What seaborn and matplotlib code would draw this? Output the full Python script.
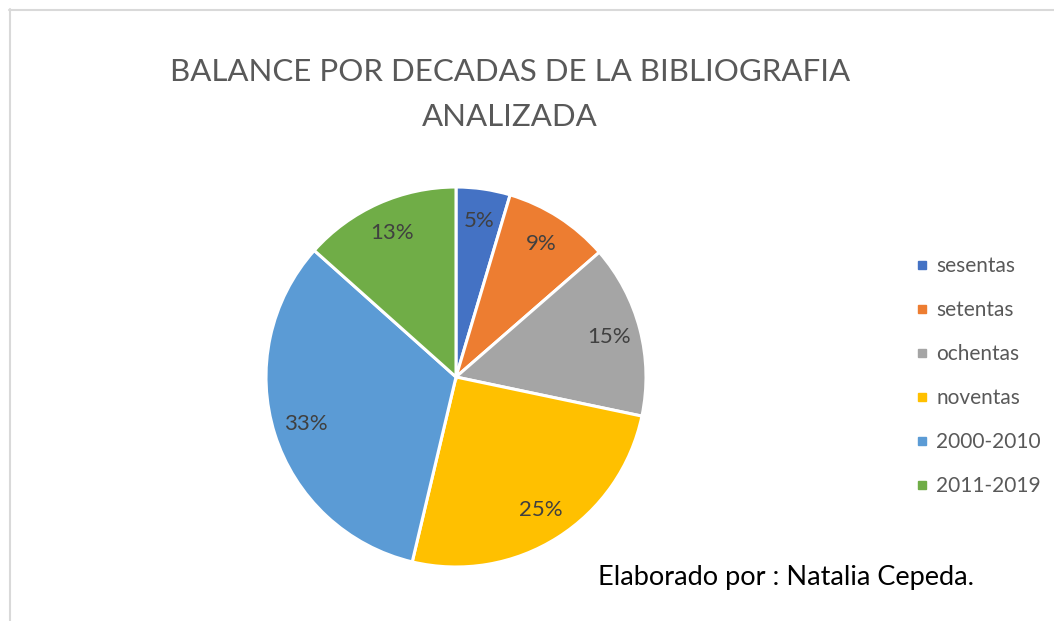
import matplotlib
matplotlib.use('Agg')
import matplotlib.pyplot as plt
from matplotlib.lines import Line2D
import seaborn as sns

# datos del gráfico
decadas = ['sesentas', 'setentas', 'ochentas', 'noventas', '2000-2010', '2011-2019']
porcentajes = [4.6, 9.0, 14.7, 25.4, 32.9, 13.4]
colores = ['#4472C4', '#ED7D31', '#A5A5A5', '#FFC000', '#5B9BD5', '#70AD47']
titulo = 'BALANCE POR DECADAS DE LA BIBLIOGRAFIA\nANALIZADA'
nota = 'Elaborado por : Natalia Cepeda.'

sns.set_theme(style='white')
plt.rcParams['font.family'] = ['Lato', 'DejaVu Sans']

fig = plt.figure(figsize=(10.54, 6.21), dpi=100)

# borde gris del área del gráfico (arriba e izquierda)
fig.add_artist(Line2D([9 / 1054, 1], [1 - 9.5 / 621, 1 - 9.5 / 621], color='#D9D9D9', lw=1.5))
fig.add_artist(Line2D([9.5 / 1054, 9.5 / 1054], [0, 1 - 9 / 621], color='#D9D9D9', lw=1.5))

ax = fig.add_axes([266 / 1054, 54 / 621, 380 / 1054, 380 / 621])
wedges, texts, autotexts = ax.pie(
    porcentajes, colors=sns.color_palette(colores), startangle=90, counterclock=False,
    radius=1, autopct='%.0f%%', pctdistance=0.83,
    wedgeprops=dict(edgecolor='white', linewidth=2.2),
    textprops=dict(color='#404040', fontsize=16))
ax.set_xlim(-1, 1)
ax.set_ylim(-1, 1)
ax.axis('off')

fig.text(510 / 1054, 1 - 94.5 / 621, titulo, ha='center', va='center', fontsize=22.5,
         color='#595959', linespacing=1.72)

handles = [Line2D([], [], marker='s', linestyle='none', markersize=6, color=c) for c in colores]
fig.legend(handles, decadas, loc='center left', bbox_to_anchor=(904 / 1054, 1 - 376 / 621),
           frameon=False, fontsize=15, labelcolor='#595959', handlelength=0.7,
           handletextpad=0.35, labelspacing=1.15, borderpad=0)

fig.text(598 / 1054, 1 - 577 / 621, nota, ha='left', va='center', fontsize=19.5, color='black')

plt.savefig('out.png', dpi=100)
